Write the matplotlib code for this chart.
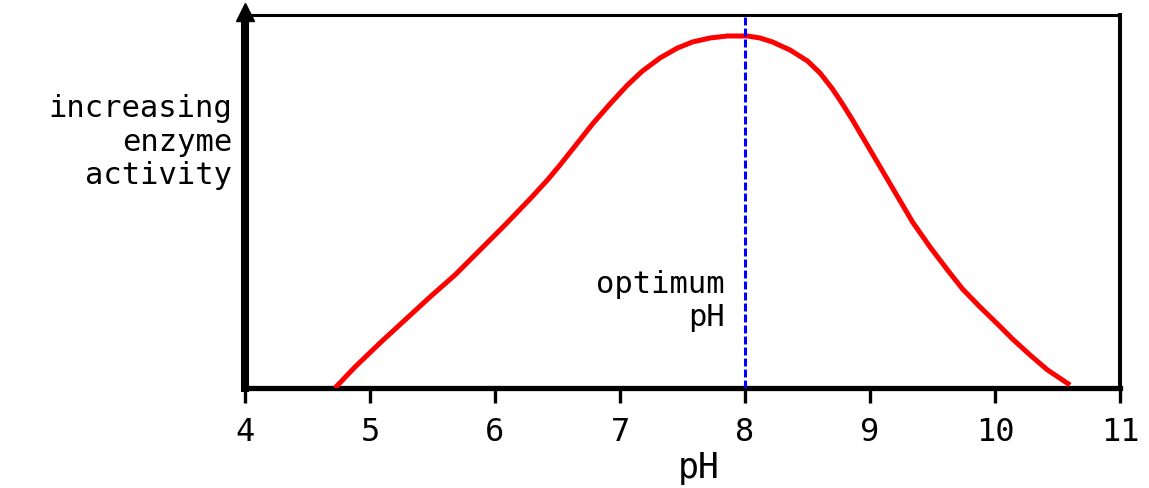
import numpy as np
import matplotlib
matplotlib.use("Agg")
import matplotlib.pyplot as plt

# enzyme activity vs pH (arbitrary activity units)
ph = [4.72, 4.88, 5.08, 5.28, 5.48, 5.68, 5.88, 6.08, 6.28, 6.42, 6.52, 6.66,
      6.78, 6.92, 7.06, 7.18, 7.32, 7.46, 7.58, 7.72, 7.86, 8.02, 8.12, 8.22,
      8.36, 8.50, 8.60, 8.70, 8.78, 8.86, 8.94, 9.02, 9.10, 9.18, 9.34,
      9.48, 9.62, 9.74, 9.88, 10.02, 10.14, 10.28, 10.42, 10.60]
activity = [0, 21, 45, 68, 91, 113, 138, 163, 189, 208, 223, 245,
            264, 284, 303, 317, 330, 340, 346, 350, 352, 352, 350, 346,
            338, 327, 315, 299, 284, 268, 251, 234, 217, 200, 166,
            141, 118, 99, 81, 64, 49, 33, 18, 3]
optimum_ph = 8
xticks = [4, 5, 6, 7, 8, 9, 10, 11]

plt.rcParams["font.family"] = ["DejaVu Sans Mono", "DejaVu Sans"]

fig = plt.figure(figsize=(11.49, 4.88), dpi=100)
ax = fig.add_axes([0.2132, 0.2049, 0.7616, 0.7644])
ax.set_xlim(4, 11)
ax.set_ylim(0, 373)

ax.plot(ph, activity, "-", color="#ff0000", linewidth=3.6,
        solid_joinstyle="round", solid_capstyle="butt", zorder=3)
ax.axvline(optimum_ph, color="#0000ff", linewidth=2.2, dashes=(2.6, 1.0), zorder=4)

# frame: heavy left/bottom, lighter top/right
ax.spines["left"].set_linewidth(5.8)
ax.spines["bottom"].set_linewidth(3.8)
ax.spines["top"].set_linewidth(2.2)
ax.spines["right"].set_linewidth(2.9)
for sp in ax.spines.values():
    sp.set_color("black")
# arrowhead on top of the y axis
ax.plot([4], [376], marker="^", markersize=13, color="black", clip_on=False, zorder=5)

ax.set_yticks([])
ax.set_xticks(xticks)
ax.tick_params(axis="x", direction="out", length=11, width=2.4, pad=10,
               labelsize=23, colors="black")

fig.text(0.608, 0.04, "pH", fontsize=25, ha="center", va="center")
fig.text(0.202, 0.709, "increasing\nenzyme\nactivity", fontsize=22,
         ha="right", va="center", linespacing=1.2)
ax.text(7.84, 87, "optimum\npH", fontsize=22, ha="right", va="center", linespacing=1.2)

fig.savefig("out.png", dpi=100)
